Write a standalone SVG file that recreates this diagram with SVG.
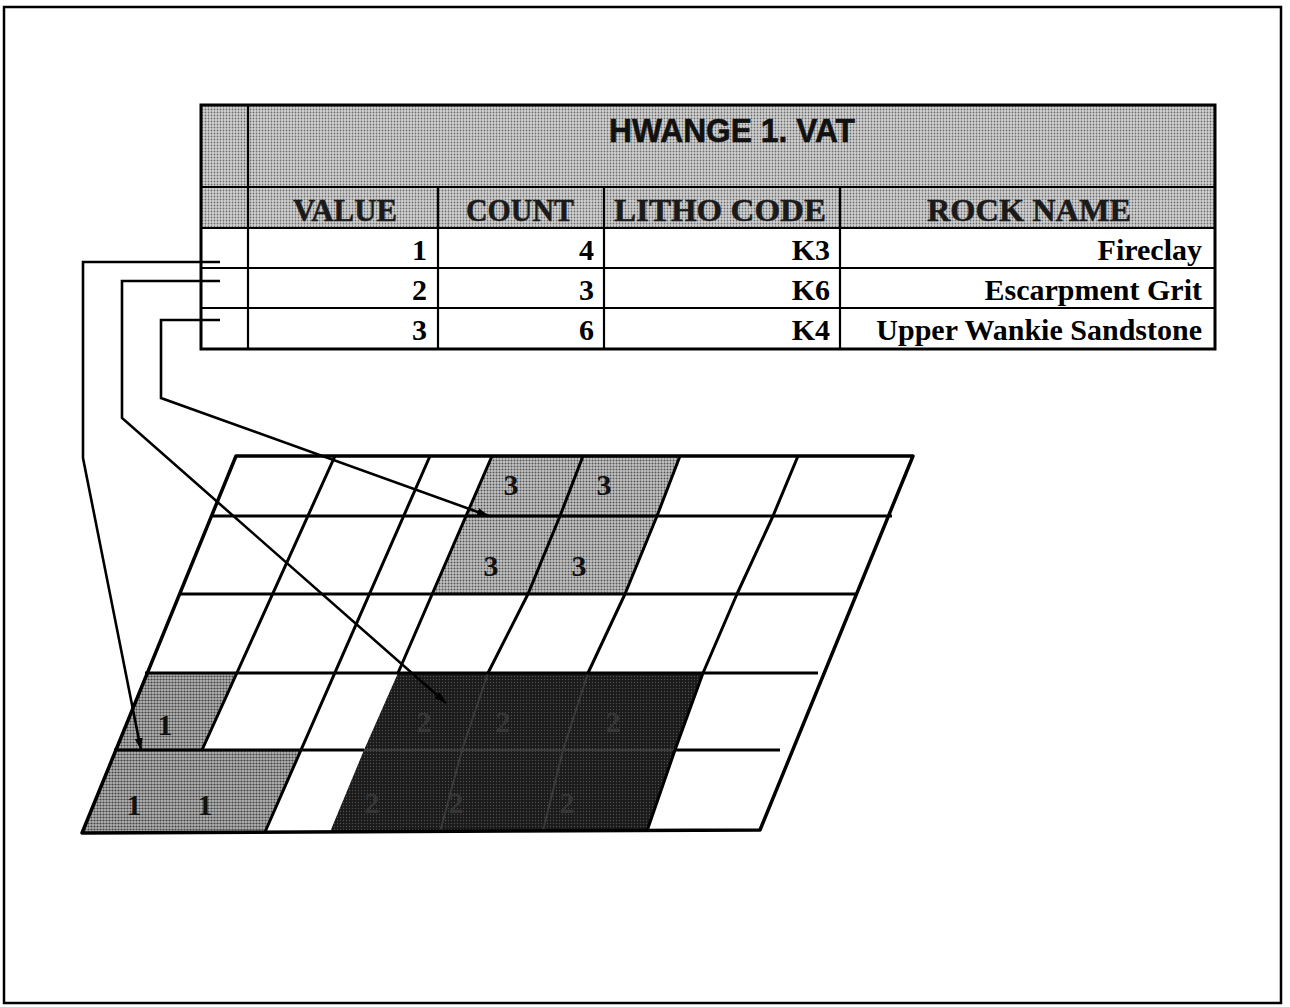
<svg xmlns="http://www.w3.org/2000/svg" width="1290" height="1007" viewBox="0 0 1290 1007">
<defs>
<pattern id="dotLight" patternUnits="userSpaceOnUse" width="3" height="3">
<rect width="3" height="3" fill="#d2d2d2"/>
<circle cx="1.5" cy="1.5" r="0.9" fill="#6a6a6a"/>
</pattern>
<pattern id="dotMid" patternUnits="userSpaceOnUse" width="3" height="3">
<rect width="3" height="3" fill="#c4c4c4"/>
<circle cx="1.5" cy="1.5" r="1" fill="#555"/>
</pattern>
<pattern id="dotGray" patternUnits="userSpaceOnUse" width="3" height="3">
<rect width="3" height="3" fill="#b4b4b4"/>
<circle cx="1.5" cy="1.5" r="1.1" fill="#444"/>
</pattern>
<pattern id="dotDark" patternUnits="userSpaceOnUse" width="3" height="3">
<rect width="3" height="3" fill="#1a1a1a"/>
<circle cx="1.5" cy="1.5" r="0.7" fill="#505050"/>
</pattern>
<marker id="arrow" markerUnits="userSpaceOnUse" markerWidth="14" markerHeight="10" refX="12" refY="4" orient="auto">
<path d="M0,0 L12,4 L0,8 z" fill="#000"/>
</marker>
<style>
.frame{fill:#fff;stroke:#000;stroke-width:2.5}
.tline{stroke:#000;stroke-width:2.2;fill:none}
.tborder{stroke:#000;stroke-width:3;fill:none}
.title{font-family:"Liberation Sans",Arial,sans-serif;font-weight:bold;font-size:34px;fill:#111;stroke:#111;stroke-width:0.6}
.head{font-family:"Liberation Serif","Times New Roman",serif;font-weight:bold;font-size:32px;fill:#1a1a1a;stroke:#1a1a1a;stroke-width:0.5}
.cell{font-family:"Liberation Serif","Times New Roman",serif;font-weight:bold;font-size:30px;fill:#000;text-anchor:end}
.glbl{font-family:"Liberation Serif","Times New Roman",serif;font-weight:bold;font-size:30px;fill:#111;text-anchor:middle}
.dlbl{font-family:"Liberation Serif","Times New Roman",serif;font-weight:bold;font-size:30px;fill:#363636;text-anchor:middle}
.gline{stroke:#000;stroke-width:3;fill:none;stroke-linejoin:round}
.gedge{stroke:#000;stroke-width:3.5;fill:none;stroke-linejoin:round}
.faint{stroke:#3a3a3a;stroke-width:2;fill:none}
.conn{stroke:#000;stroke-width:2.6;fill:none;stroke-linejoin:miter}
</style>
</defs>

<rect class="frame" x="4" y="7" width="1277" height="996"/>

<g id="table">
<rect x="201" y="105" width="1014" height="123" fill="url(#dotLight)"/>
<rect x="201" y="228" width="1014" height="121" fill="#fff"/>
<line class="tline" x1="201" y1="187" x2="1215" y2="187"/>
<line class="tline" x1="201" y1="228" x2="1215" y2="228"/>
<line class="tline" x1="201" y1="268" x2="1215" y2="268"/>
<line class="tline" x1="201" y1="308" x2="1215" y2="308"/>
<line class="tline" x1="248" y1="105" x2="248" y2="349"/>
<line class="tline" x1="438" y1="187" x2="438" y2="349"/>
<line class="tline" x1="604" y1="187" x2="604" y2="349"/>
<line class="tline" x1="840" y1="187" x2="840" y2="349"/>
<rect class="tborder" x="201" y="105" width="1014" height="244"/>
<text class="title" x="732" y="142" text-anchor="middle" textLength="246" lengthAdjust="spacingAndGlyphs">HWANGE 1. VAT</text>
<text class="head" x="345" y="221" text-anchor="middle" textLength="104" lengthAdjust="spacingAndGlyphs">VALUE</text>
<text class="head" x="520" y="221" text-anchor="middle" textLength="108" lengthAdjust="spacingAndGlyphs">COUNT</text>
<text class="head" x="720" y="221" text-anchor="middle" textLength="212" lengthAdjust="spacingAndGlyphs">LITHO CODE</text>
<text class="head" x="1029" y="221" text-anchor="middle" textLength="204" lengthAdjust="spacingAndGlyphs">ROCK NAME</text>
<text class="cell" x="427" y="260">1</text>
<text class="cell" x="594" y="260">4</text>
<text class="cell" x="830" y="260">K3</text>
<text class="cell" x="1202" y="260">Fireclay</text>
<text class="cell" x="427" y="300">2</text>
<text class="cell" x="594" y="300">3</text>
<text class="cell" x="830" y="300">K6</text>
<text class="cell" x="1202" y="300">Escarpment Grit</text>
<text class="cell" x="427" y="340">3</text>
<text class="cell" x="594" y="340">6</text>
<text class="cell" x="830" y="340">K4</text>
<text class="cell" x="1202" y="340">Upper Wankie Sandstone</text>
</g>

<g id="grid">
<polygon points="492,456 680,456 657,516 466,516" fill="url(#dotMid)"/>
<polygon points="466,516 657,516 625,594 432,594" fill="url(#dotMid)"/>
<polygon points="146,673 237,673 202,750 115,750" fill="url(#dotGray)"/>
<polygon points="115,750 301,750 265,833 82,833" fill="url(#dotGray)"/>
<polygon points="398,673 703,673 675,750 647,831 330,832 364,750" fill="url(#dotDark)"/>
<path class="faint" d="M488,673 L462,750 L440,832 M588,673 L563,750 L543,831 M364,750 L675,750"/>
<path class="gline" d="M211,516 L892,516 M180,594 L857,594 M145,673 L818,673 M114,750 L364,750 M675,750 L780,750"/>
<path class="gline" d="M335,456 L202,750 M430,456 L265,832 M492,456 L398,673 M583,456 L560,516 L528,594 L488,673 M680,456 L657,516 L625,594 L588,673 M798,456 L773,516 L737,594 L703,673 L675,750 L647,831"/>
<path class="gedge" d="M236,456 L913,456 L760,830 L82,833 Z"/>
<text class="glbl" x="511" y="495">3</text>
<text class="glbl" x="604" y="495">3</text>
<text class="glbl" x="491" y="576">3</text>
<text class="glbl" x="579" y="576">3</text>
<text class="glbl" x="165" y="735">1</text>
<text class="glbl" x="134" y="815">1</text>
<text class="glbl" x="205" y="815">1</text>
<text class="dlbl" x="424" y="732">2</text>
<text class="dlbl" x="503" y="732">2</text>
<text class="dlbl" x="613" y="732">2</text>
<text class="dlbl" x="372" y="813">2</text>
<text class="dlbl" x="456" y="813">2</text>
<text class="dlbl" x="567" y="813">2</text>
</g>

<g id="connectors">
<polyline class="conn" points="220,262 83,262 83,458 141,750" marker-end="url(#arrow)"/>
<polyline class="conn" points="220,281 122,281 122,418 446,703" marker-end="url(#arrow)"/>
<polyline class="conn" points="220,320 161,320 161,398 489,516" marker-end="url(#arrow)"/>
</g>
</svg>
